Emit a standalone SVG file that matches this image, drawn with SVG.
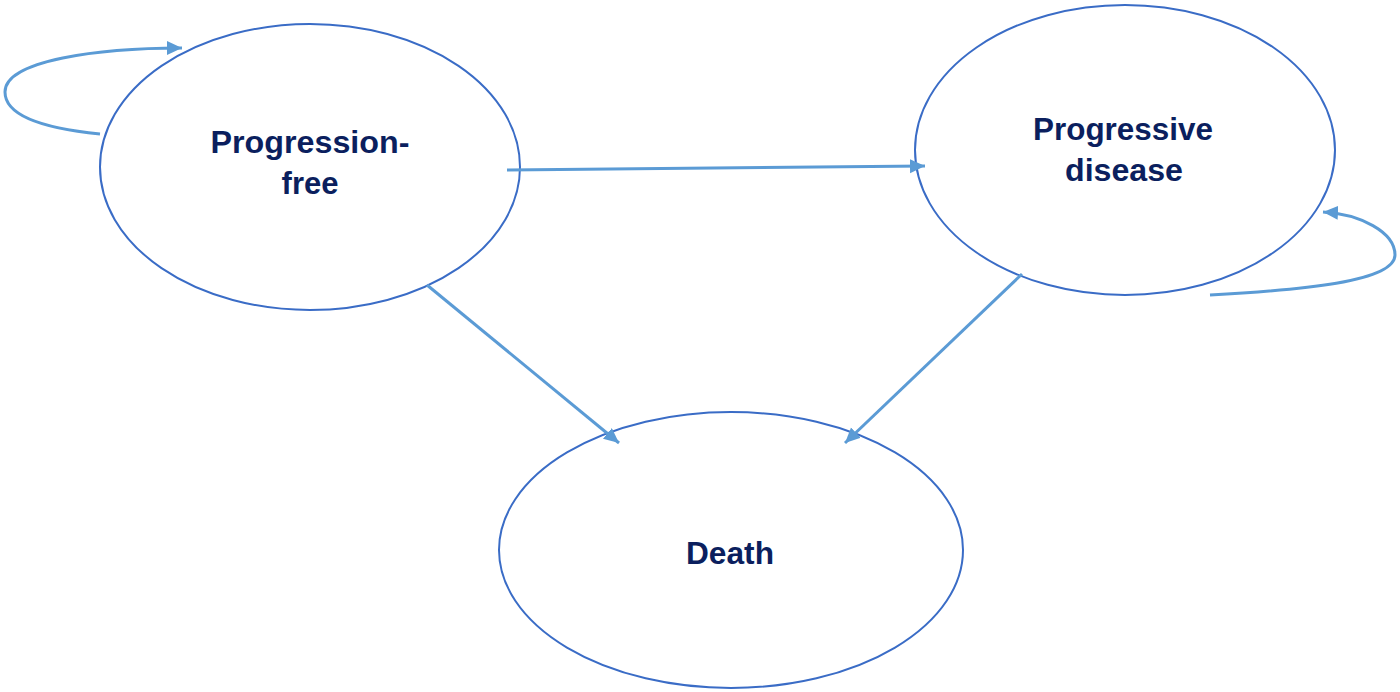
<svg xmlns="http://www.w3.org/2000/svg" width="1400" height="692" viewBox="0 0 1400 692">
<defs>
<style>
.node{fill:#ffffff;stroke:#3a6cc6;stroke-width:2}
.lbl{font-family:"Liberation Sans",Arial,sans-serif;font-weight:bold;font-size:31px;fill:#0b1f5e;text-anchor:middle}
.conn{fill:none;stroke:#5b9bd5;stroke-width:3;marker-end:url(#ah)}
</style>
<marker id="ah" markerUnits="userSpaceOnUse" markerWidth="18" markerHeight="16" refX="15" refY="7" orient="auto">
<path d="M0,0 L15,7 L0,14 Z" fill="#5b9bd5"/>
</marker>
</defs>
<rect width="1400" height="692" fill="#ffffff"/>
<g id="node-progression-free">
<ellipse class="node" cx="310" cy="167" rx="210" ry="143"/>
<text class="lbl" x="310" y="153" textLength="199" lengthAdjust="spacingAndGlyphs">Progression-</text>
<text class="lbl" x="310" y="194">free</text>
</g>
<g id="node-progressive-disease">
<ellipse class="node" cx="1125" cy="150" rx="210" ry="145"/>
<text class="lbl" x="1123" y="140" textLength="180" lengthAdjust="spacingAndGlyphs">Progressive</text>
<text class="lbl" x="1124" y="181" textLength="118" lengthAdjust="spacingAndGlyphs">disease</text>
</g>
<g id="node-death">
<ellipse class="node" cx="731" cy="550" rx="232" ry="138"/>
<text class="lbl" x="730" y="564" textLength="88" lengthAdjust="spacingAndGlyphs">Death</text>
</g>
<g id="connectors">
<path class="conn" d="M100,134 C40,128 5,115 5,92 C5,60 100,48 182,48"/>
<path class="conn" d="M1210,295 C1300,290 1395,282 1395,255 C1395,232 1360,214 1323,212"/>
<path class="conn" d="M507,170 L925,166"/>
<path class="conn" d="M427,285 L619,443"/>
<path class="conn" d="M1022,274 L845,443"/>
</g>
</svg>
